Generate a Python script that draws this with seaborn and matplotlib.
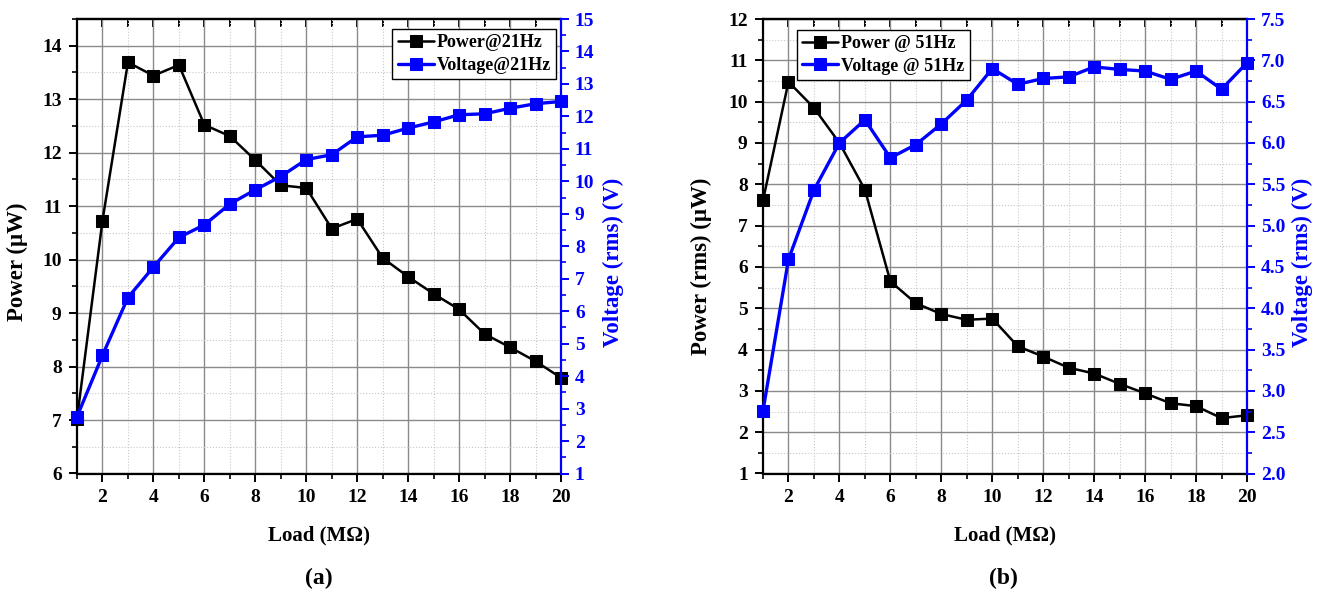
import numpy as np
import pandas as pd
import matplotlib
matplotlib.use("Agg")
import matplotlib.pyplot as plt
import seaborn as sns
from matplotlib.ticker import MultipleLocator, FormatStrFormatter

# ---------------- data ----------------
load = list(range(1, 21))
power_21 = [7.02, 10.73, 13.69, 13.44, 13.64, 12.52, 12.31, 11.86, 11.39, 11.34,
            10.58, 10.76, 10.03, 9.68, 9.36, 9.07, 8.61, 8.36, 8.10, 7.79]
voltage_21 = [2.75, 4.64, 6.42, 7.36, 8.27, 8.66, 9.30, 9.74, 10.15, 10.67,
              10.82, 11.37, 11.42, 11.64, 11.83, 12.05, 12.08, 12.25, 12.39, 12.46]
power_51 = [7.61, 10.48, 9.85, 9.00, 7.87, 5.65, 5.12, 4.86, 4.72, 4.75,
            4.08, 3.83, 3.56, 3.42, 3.17, 2.94, 2.70, 2.63, 2.34, 2.41]
voltage_51 = [2.76, 4.59, 5.43, 6.00, 6.28, 5.82, 5.98, 6.23, 6.52, 6.90,
              6.71, 6.78, 6.80, 6.92, 6.89, 6.87, 6.77, 6.87, 6.65, 6.97]

labels_a = ["Power@21Hz", "Voltage@21Hz"]
labels_b = ["Power @ 51Hz", "Voltage @ 51Hz"]
xlabel = "Load (M\u03a9)"
ylabel_a = "Power (\u03bcW)"
ylabel_b = "Power (rms) (\u03bcW)"
y2label = "Voltage (rms) (V)"

sns.set_style("white")
plt.rcParams["font.family"] = ["Liberation Serif", "DejaVu Serif"]
plt.rcParams["font.weight"] = "bold"
plt.rcParams["axes.labelweight"] = "bold"
plt.rcParams["text.color"] = "black"
plt.rcParams["axes.labelcolor"] = "black"
plt.rcParams["xtick.color"] = "black"
plt.rcParams["ytick.color"] = "black"

fig = plt.figure(figsize=(13.2, 5.96), dpi=100)

W = 484 / 1320
H = 454.5 / 596
B = 1 - 473.5 / 596
ax_a = fig.add_axes([77 / 1320, B, W, H])
ax_b = fig.add_axes([763 / 1320, B, W, H])

TICKFS = 14
XLABFS = 15
YLABFS = 16.5


def setup(ax, p, v, ylim, y2lim, ymaj, y2maj, labels, ylabel, ylab_pos, y2lab_pos,
          leg_loc, leg_anchor, y2fmt):
    df = pd.DataFrame({"load": load, "p": p, "v": v})
    sns.lineplot(data=df, x="load", y="p", ax=ax, color="black", marker="s",
                 markersize=8, markeredgecolor="black", linewidth=1.8,
                 clip_on=False, label=labels[0], legend=False, zorder=3)
    ax2 = ax.twinx()
    sns.lineplot(data=df, x="load", y="v", ax=ax2, color="blue", marker="s",
                 markersize=8, markeredgecolor="blue", linewidth=2.4,
                 clip_on=False, label=labels[1], legend=False, zorder=3)
    ax.set_xlim(1, 20)
    ax.set_ylim(*ylim)
    ax2.set_ylim(*y2lim)

    ax.xaxis.set_major_locator(MultipleLocator(2))
    ax.xaxis.set_minor_locator(MultipleLocator(1))
    ax.yaxis.set_major_locator(MultipleLocator(ymaj))
    ax.yaxis.set_minor_locator(MultipleLocator(ymaj / 2))
    ax2.yaxis.set_major_locator(MultipleLocator(y2maj))
    ax2.yaxis.set_minor_locator(MultipleLocator(y2maj / 2))
    ax2.yaxis.set_major_formatter(y2fmt)

    ax.grid(True, which="major", color="#8a8a8a", linewidth=1.0)
    ax.grid(True, which="minor", color="#c8c8c8", linewidth=0.8, linestyle=":")
    ax.set_axisbelow(True)

    for s in ["left", "bottom", "top"]:
        ax.spines[s].set_color("black")
        ax.spines[s].set_linewidth(1.6)
    ax.spines["right"].set_visible(False)
    for s in ["left", "bottom", "top"]:
        ax2.spines[s].set_visible(False)
    ax2.spines["right"].set_color("blue")
    ax2.spines["right"].set_linewidth(1.6)

    ax.tick_params(axis="both", which="major", direction="out", length=6, width=1.4,
                   labelsize=TICKFS, colors="black", pad=5)
    ax.tick_params(axis="both", which="minor", direction="out", length=3.5, width=1.2,
                   colors="black")
    ax.tick_params(axis="x", which="both", bottom=True, top=False)
    ax.tick_params(axis="y", which="both", left=True, right=False)
    ax2.tick_params(axis="y", which="major", direction="out", length=6, width=1.4,
                    labelsize=TICKFS, colors="blue", pad=4)
    ax2.tick_params(axis="y", which="minor", direction="out", length=3.5, width=1.2,
                    colors="blue")

    sec = ax.secondary_xaxis("top")
    sec.xaxis.set_major_locator(MultipleLocator(1))
    sec.tick_params(direction="in", length=6, width=1.4, labeltop=False,
                    colors="black")
    sec.spines["top"].set_linewidth(1.6)

    for t in ax.get_xticklabels() + ax.get_yticklabels() + ax2.get_yticklabels():
        t.set_fontweight("bold")

    ax.set_xlabel(xlabel, fontsize=XLABFS, fontweight="bold", labelpad=14,
                  color="black")
    ax.set_ylabel(ylabel, fontsize=YLABFS, fontweight="bold", color="black")
    ax.yaxis.set_label_coords(*ylab_pos)
    ax2.set_ylabel(y2label, fontsize=YLABFS, fontweight="bold", color="blue")
    ax2.yaxis.set_label_coords(*y2lab_pos)

    h1, l1 = ax.get_legend_handles_labels()
    h2, l2 = ax2.get_legend_handles_labels()
    leg = ax2.legend(h1 + h2, l1 + l2, loc=leg_loc, bbox_to_anchor=leg_anchor,
                     borderaxespad=0, fancybox=False, framealpha=1,
                     edgecolor="black", prop={"family": "Liberation Serif",
                                              "weight": "bold", "size": 13},
                     handlelength=2.0, handletextpad=0.15, labelspacing=0.3,
                     borderpad=0.3)
    leg.get_frame().set_linewidth(1.0)
    return ax2


setup(ax_a, power_21, voltage_21, (6, 14.5), (1, 15), 1, 1, labels_a, ylabel_a,
      (-0.101, 0.465), (1.087, 0.465), "upper right", (0.99, 0.978),
      FormatStrFormatter("%d"))
setup(ax_b, power_51, voltage_51, (1, 12), (2.0, 7.5), 1, 0.5, labels_b, ylabel_b,
      (-0.105, 0.456), (1.093, 0.465), "upper left", (0.07, 0.976),
      FormatStrFormatter("%.1f"))

fig.text(319 / 1320, 1 - 578 / 596, "(a)", ha="center", va="center",
         fontsize=17, fontweight="bold")
fig.text(1003 / 1320, 1 - 578 / 596, "(b)", ha="center", va="center",
         fontsize=17, fontweight="bold")

fig.savefig("out.png", dpi=100)
